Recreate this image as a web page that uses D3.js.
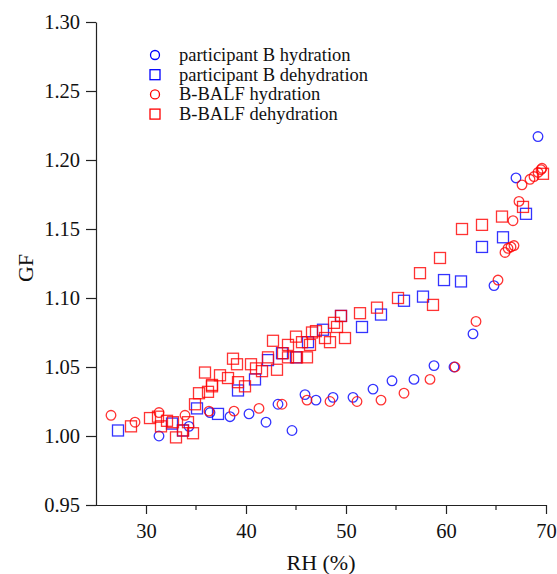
<!DOCTYPE html>
<html>
<head>
<meta charset="utf-8">
<script src="https://d3js.org/d3.v7.min.js"></script>
<style>
  body { margin: 0; background: #fff; }
  text { font-family: "Liberation Serif", "Times New Roman", serif; fill: #111; }
  .axis path, .axis line { stroke: #222; stroke-width: 1.2px; }
</style>
</head>
<body>
<div id="canvas"></div>
<script>
// participant B hydration  [RH, GF]
var bHydration = [
  [31.3, 1.000], [34.3, 1.007], [36.4, 1.017], [38.4, 1.014], [40.3, 1.016],
  [42.0, 1.010], [43.2, 1.023], [44.6, 1.004], [45.9, 1.030], [47.0, 1.026],
  [48.7, 1.028], [50.7, 1.028], [52.7, 1.034], [54.6, 1.040], [56.8, 1.041],
  [58.8, 1.051], [60.8, 1.050], [62.7, 1.074], [64.8, 1.109], [67.0, 1.187],
  [69.2, 1.217]
];
// participant B dehydration
var bDehydration = [
  [27.2, 1.004], [32.6, 1.009], [33.7, 1.004], [35.1, 1.020], [37.2, 1.016],
  [39.2, 1.033], [40.9, 1.041], [42.2, 1.055], [43.6, 1.060], [45.0, 1.057],
  [46.2, 1.068], [47.7, 1.077], [49.5, 1.087], [51.6, 1.079], [53.5, 1.088],
  [55.8, 1.098], [57.7, 1.101], [59.8, 1.113], [61.5, 1.112], [63.6, 1.137],
  [65.7, 1.144], [68.0, 1.161]
];
// B-BALF hydration
var balfHydration = [
  [26.5, 1.015], [28.9, 1.010], [31.3, 1.017], [33.9, 1.015], [36.3, 1.018],
  [38.8, 1.018], [41.3, 1.020], [43.6, 1.023], [46.1, 1.026], [48.4, 1.025],
  [51.1, 1.025], [53.5, 1.026], [55.8, 1.031], [58.4, 1.041], [60.9, 1.050],
  [63.0, 1.083], [65.2, 1.113], [65.9, 1.133], [66.2, 1.136], [66.5, 1.137],
  [66.8, 1.138], [66.7, 1.156], [67.3, 1.170], [67.6, 1.182], [68.4, 1.186],
  [68.8, 1.188], [69.2, 1.191], [69.5, 1.193], [69.6, 1.194]
];
// B-BALF dehydration
var balfDehydration = [
  [28.5, 1.007], [30.4, 1.013], [31.2, 1.014], [31.5, 1.007], [32.1, 1.011],
  [32.7, 1.010], [33.0, 0.999], [33.7, 1.004], [34.2, 1.010], [34.7, 1.002],
  [34.9, 1.023], [35.3, 1.031], [36.2, 1.032], [36.6, 1.036], [35.9, 1.046],
  [36.6, 1.037], [37.4, 1.044], [38.2, 1.042], [38.7, 1.056], [39.1, 1.052],
  [39.2, 1.039], [39.9, 1.036], [40.5, 1.052], [41.0, 1.049], [41.6, 1.047],
  [42.2, 1.057], [42.7, 1.069], [43.1, 1.048], [43.7, 1.060], [44.2, 1.066],
  [44.2, 1.057], [45.0, 1.072], [45.1, 1.057], [45.6, 1.068], [46.1, 1.057],
  [46.4, 1.066], [46.6, 1.075], [47.0, 1.076], [47.9, 1.071], [48.4, 1.068],
  [48.8, 1.082], [49.1, 1.079], [49.5, 1.087], [49.9, 1.071], [51.4, 1.089],
  [53.1, 1.093], [55.2, 1.100], [57.4, 1.118], [58.7, 1.095], [59.4, 1.129],
  [61.6, 1.150], [63.6, 1.153], [65.6, 1.159], [67.7, 1.166], [69.7, 1.190]
];

var xTicks = [30, 40, 50, 60, 70];
var xMinorTicks = [35, 45, 55, 65];
var yTicks = [0.95, 1.00, 1.05, 1.10, 1.15, 1.20, 1.25, 1.30];

var series = [
  { name: "participant B hydration", data: bHydration, color: "#0000ff", shape: "circle" },
  { name: "participant B dehydration", data: bDehydration, color: "#0000ff", shape: "square" },
  { name: "B-BALF hydration", data: balfHydration, color: "#ff0000", shape: "circle" },
  { name: "B-BALF dehydration", data: balfDehydration, color: "#ff0000", shape: "square" }
];

function init() {
    var svg = d3.select("#canvas").append("svg")
        .attr("width", 557)
        .attr("height", 574);

    var x = d3.scaleLinear().domain([24, 70]).range([86, 546]);
    var y = d3.scaleLinear().domain([0.95, 1.30]).range([505, 22]);

    // x axis
    var xAxis = svg.append("g")
        .attr("class", "axis")
        .attr("transform", "translate(0,505)")
        .call(d3.axisBottom(x).tickValues(xTicks).tickSize(9).tickSizeOuter(0).tickPadding(9));
    xAxis.selectAll("text").attr("font-size", 20.5).style("font-family", "Liberation Serif").style("fill", "#111");
    xAxis.selectAll(".minor")
        .data(xMinorTicks)
        .enter().append("line")
        .attr("class", "minor")
        .attr("x1", function(d) { return x(d); })
        .attr("x2", function(d) { return x(d); })
        .attr("y1", 0)
        .attr("y2", 5);

    // y axis
    var yAxis = svg.append("g")
        .attr("class", "axis")
        .attr("transform", "translate(" + x(25) + ",0)")
        .call(d3.axisLeft(y).tickValues(yTicks).tickFormat(d3.format(".2f")).tickSize(10).tickSizeOuter(0).tickPadding(6));
    yAxis.selectAll("text").attr("font-size", 20.5).style("font-family", "Liberation Serif").style("fill", "#111");

    // axis titles
    svg.append("text")
        .attr("x", 321)
        .attr("y", 570)
        .attr("text-anchor", "middle")
        .attr("font-size", 22)
        .text("RH (%)");
    svg.append("text")
        .attr("transform", "translate(33,268) rotate(-90)")
        .attr("text-anchor", "middle")
        .attr("font-size", 22)
        .text("GF");

    // markers
    series.forEach(function(s) {
        var g = svg.append("g")
            .attr("fill", "none")
            .attr("stroke", s.color)
            .attr("stroke-width", 1.3)
            .attr("stroke-opacity", 0.8);
        if (s.shape === "circle") {
            g.selectAll("circle").data(s.data).enter().append("circle")
                .attr("cx", function(d) { return x(d[0]); })
                .attr("cy", function(d) { return y(d[1]); })
                .attr("r", 4.8);
        } else {
            g.selectAll("rect").data(s.data).enter().append("rect")
                .attr("x", function(d) { return x(d[0]) - 5.5; })
                .attr("y", function(d) { return y(d[1]) - 5.5; })
                .attr("width", 11)
                .attr("height", 11);
        }
    });

    // legend
    var legend = svg.append("g").attr("transform", "translate(155,55)");
    series.forEach(function(s, i) {
        var row = legend.append("g").attr("transform", "translate(0," + (i * 19.7) + ")");
        if (s.shape === "circle") {
            row.append("circle").attr("r", 4.5)
                .attr("fill", "none").attr("stroke", s.color).attr("stroke-width", 1.3);
        } else {
            row.append("rect").attr("x", -5).attr("y", -5).attr("width", 10).attr("height", 10)
                .attr("fill", "none").attr("stroke", s.color).attr("stroke-width", 1.3);
        }
        row.append("text")
            .attr("x", 24)
            .attr("y", 6)
            .attr("font-size", 18.5)
            .text(s.name);
    });
}
window.onload = init;
</script>
</body>
</html>
